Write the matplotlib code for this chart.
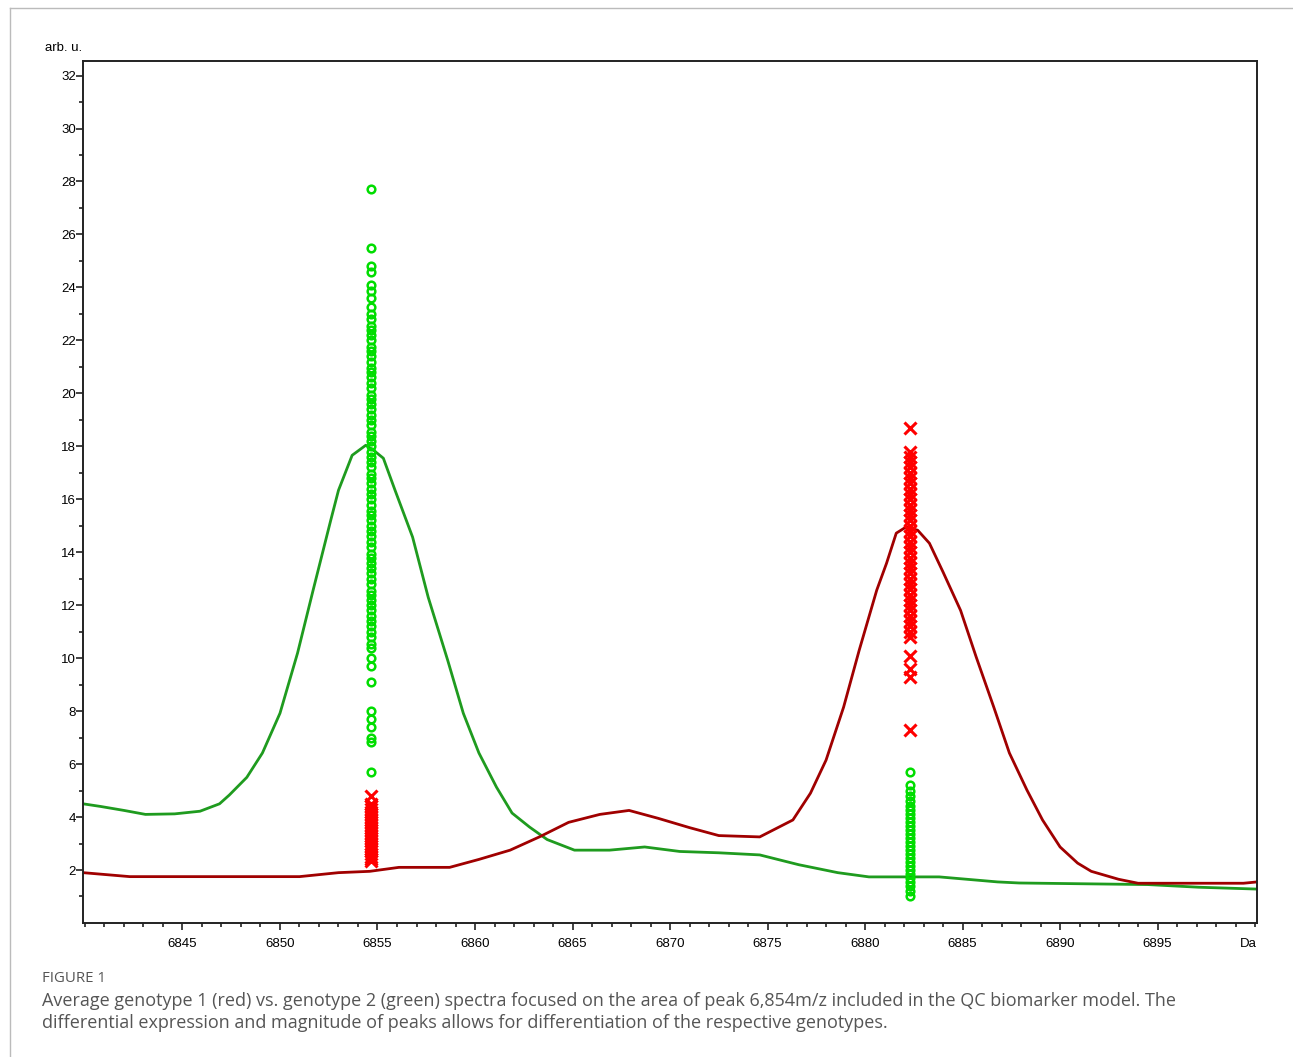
import numpy as np
import matplotlib
matplotlib.use('Agg')
import matplotlib.pyplot as plt
from matplotlib.ticker import FixedLocator
from matplotlib.lines import Line2D

# average spectra (Da, arb. u.)
green_mz = [6839.9, 6840.8, 6842.0, 6843.1, 6844.6, 6845.9, 6846.9, 6847.4, 6848.3, 6849.1,
            6850.0, 6850.9, 6851.7, 6852.6, 6853.0, 6853.7, 6854.4, 6854.8, 6855.3, 6855.9,
            6856.8, 6857.6, 6858.6, 6859.4, 6860.2, 6861.1, 6861.9, 6862.8, 6863.7, 6865.1,
            6866.9, 6868.7, 6870.5, 6872.5, 6874.6, 6876.6, 6878.6, 6880.2, 6883.8, 6886.8,
            6887.9, 6894.5, 6897.1, 6900.1]
green_int = [4.5, 4.4, 4.25, 4.1, 4.12, 4.22, 4.5, 4.83, 5.5, 6.42,
             7.92, 10.19, 12.57, 15.2, 16.34, 17.66, 18.04, 17.85, 17.55, 16.34,
             14.57, 12.3, 9.92, 7.92, 6.42, 5.13, 4.15, 3.62, 3.15, 2.75,
             2.75, 2.87, 2.7, 2.65, 2.57, 2.2, 1.9, 1.74, 1.74, 1.55,
             1.51, 1.45, 1.35, 1.28]

red_mz = [6839.9, 6842.3, 6851.0, 6853.0, 6854.6, 6856.1, 6858.7, 6860.2, 6861.8, 6863.3,
          6864.8, 6866.4, 6867.9, 6869.4, 6871.0, 6872.5, 6874.6, 6876.3, 6877.2, 6878.0,
          6878.9, 6879.7, 6880.6, 6881.1, 6881.6, 6882.1, 6882.7, 6883.3, 6884.0, 6884.9,
          6885.7, 6886.6, 6887.4, 6888.3, 6889.1, 6890.0, 6890.9, 6891.6, 6893.0, 6894.0,
          6899.4, 6900.1]
red_int = [1.9, 1.75, 1.75, 1.9, 1.95, 2.1, 2.1, 2.4, 2.75, 3.25,
           3.8, 4.1, 4.25, 3.95, 3.6, 3.3, 3.25, 3.89, 4.9, 6.15,
           8.15, 10.3, 12.57, 13.58, 14.72, 14.95, 14.83, 14.34, 13.25, 11.8,
           10.04, 8.15, 6.42, 5.02, 3.89, 2.87, 2.26, 1.95, 1.65, 1.5,
           1.5, 1.55]

# individual spectra peak intensities
peak_a = 6854.66
peak_b = 6882.3
g2_peak_a = [27.7, 25.5, 24.8, 24.6, 24.1, 23.85, 23.6, 23.25, 23.0, 22.8, 22.55, 22.4, 22.2,
             22.0, 21.75, 21.6, 21.4, 21.2, 20.95, 20.8, 20.6, 20.4, 20.2, 19.95, 19.8, 19.6,
             19.4, 19.2, 19.0, 18.8, 18.55, 18.4, 18.2, 18.0, 17.8, 17.6, 17.4, 17.2, 16.95,
             16.8, 16.6, 16.4, 16.2, 16.0, 15.8, 15.55, 15.4, 15.2, 15.0, 14.8, 14.6, 14.4,
             14.2, 13.95, 13.8, 13.6, 13.4, 13.2, 13.0, 12.8, 12.55, 12.4, 12.2, 12.0, 11.8,
             11.6, 11.4, 11.2, 11.0, 10.8, 10.55, 10.4, 10.0, 9.7, 9.1, 8.0, 7.7, 7.4, 7.0,
             6.85, 5.7]
g1_peak_a = [4.8, 4.5, 4.4, 4.3, 4.2, 4.1, 4.0, 3.9, 3.8, 3.7, 3.6, 3.5, 3.4, 3.3, 3.2, 3.1,
             3.0, 2.9, 2.8, 2.7, 2.6, 2.5, 2.4, 2.35]
g1_peak_b = [18.7, 17.8, 17.6, 17.4, 17.2, 17.0, 16.8, 16.6, 16.4, 16.2, 16.0, 15.8, 15.6,
             15.4, 15.2, 15.0, 14.8, 14.6, 14.4, 14.2, 14.0, 13.8, 13.6, 13.4, 13.2, 13.0,
             12.8, 12.6, 12.4, 12.2, 12.0, 11.8, 11.6, 11.4, 11.2, 11.0, 10.8, 10.1, 9.6,
             9.3, 7.3]
g2_peak_b = [5.7, 5.2, 5.0, 4.8, 4.6, 4.4, 4.25, 4.1, 3.95, 3.8, 3.65, 3.5, 3.35, 3.2, 3.05,
             2.9, 2.75, 2.6, 2.45, 2.3, 2.15, 2.0, 1.85, 1.7, 1.55, 1.4, 1.2, 1.0]

x_major = [6845, 6850, 6855, 6860, 6865, 6870, 6875, 6880, 6885, 6890, 6895]
caption_head = 'FIGURE 1'
caption = ('Average genotype 1 (red) vs. genotype 2 (green) spectra focused on the area of peak '
           '6,854m/z included in the QC biomarker model. The\n'
           'differential expression and magnitude of peaks allows for differentiation of the '
           'respective genotypes.')

plt.rcParams['font.family'] = ['Liberation Sans', 'DejaVu Sans']

fig = plt.figure(figsize=(12.93, 10.57), dpi=100)
ax = fig.add_axes([0.0642, 0.1268, 0.9080, 0.8155])

green_line = '#1f9b1f'
red_line = '#a00000'
ax.plot(green_mz, green_int, color=green_line, lw=2)
ax.plot(red_mz, red_int, color=red_line, lw=2)

ax.plot([peak_a] * len(g2_peak_a), g2_peak_a, ls='none', marker='o', ms=5.5,
        mfc='none', mec='#00dd00', mew=1.8)
ax.plot([peak_b] * len(g2_peak_b), g2_peak_b, ls='none', marker='o', ms=5.5,
        mfc='none', mec='#00dd00', mew=1.8)
ax.plot([peak_a] * len(g1_peak_a), g1_peak_a, ls='none', marker='x', ms=8,
        color='#ff0000', mew=2.2)
ax.plot([peak_b] * len(g1_peak_b), g1_peak_b, ls='none', marker='x', ms=8,
        color='#ff0000', mew=2.2)

ax.set_xlim(6839.9, 6900.1)
ax.set_ylim(0, 32.55)
ax.xaxis.set_major_locator(FixedLocator(x_major))
ax.xaxis.set_minor_locator(FixedLocator(np.arange(6840, 6901)))
ax.yaxis.set_major_locator(FixedLocator(np.arange(2, 33, 2)))
ax.yaxis.set_minor_locator(FixedLocator(np.arange(1, 33, 1)))
ax.tick_params(axis='both', which='major', direction='out', length=5, width=1.2,
               labelsize=9.5, color='#222222')
ax.tick_params(axis='both', which='minor', direction='out', length=3, width=1.2,
               color='#222222')
ax.tick_params(axis='y', pad=0)
ax.tick_params(axis='x', pad=6)
for s in ax.spines.values():
    s.set_linewidth(1.4)
    s.set_color('#222222')

ax.text(6899.65, -0.55, 'Da', ha='center', va='top', fontsize=9.5)
fig.text(45 / 1293, 1 - 48 / 1057, 'arb. u.', ha='left', va='center', fontsize=9.5)

# panel border lines (top and left)
fig.add_artist(Line2D([10 / 1293, 1], [1 - 8 / 1057, 1 - 8 / 1057], color='#bbbbbb', lw=1))
fig.add_artist(Line2D([10 / 1293, 10 / 1293], [0, 1 - 8 / 1057], color='#bbbbbb', lw=1))

fig.text(42 / 1293, 1 - 978 / 1057, caption_head, ha='left', va='center',
         fontsize=10.8, color='#555555', family=['Open Sans', 'DejaVu Sans'])
fig.text(42 / 1293, 1 - 992 / 1057, caption, ha='left', va='top', fontsize=13.0,
         color='#555555', family=['Open Sans', 'DejaVu Sans'], linespacing=1.3)

fig.savefig('out.png', dpi=100)
